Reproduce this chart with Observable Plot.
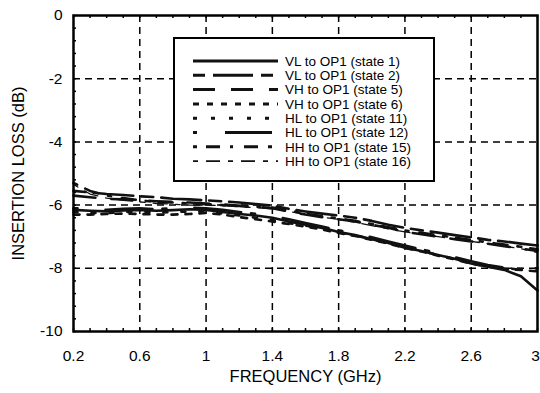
<!DOCTYPE html>
<html><head><meta charset="utf-8">
<script src="https://cdn.jsdelivr.net/npm/d3@7"></script>
<script src="https://cdn.jsdelivr.net/npm/@observablehq/plot@0.6"></script>
<style>body{margin:0;background:#fff}</style>
</head><body><div id="chart"></div>
<script>
const freq = [0.2,0.3,0.4,0.5,0.6,0.7,0.8,0.9,1.0,1.1,1.2,1.3,1.4,1.5,1.6,1.7,1.8,1.9,2.0,2.1,2.2,2.3,2.4,2.5,2.6,2.7,2.8,2.9,3.0];
const vlState1  = [-6.15,-6.18,-6.2,-6.17,-6.15,-6.18,-6.16,-6.13,-6.15,-6.22,-6.28,-6.33,-6.4,-6.52,-6.62,-6.72,-6.85,-6.95,-7.08,-7.2,-7.35,-7.45,-7.58,-7.7,-7.85,-7.95,-8.05,-8.25,-8.7];
const vlState2  = [-5.55,-5.6,-5.65,-5.68,-5.72,-5.75,-5.8,-5.82,-5.85,-5.88,-5.92,-5.97,-6.02,-6.12,-6.2,-6.27,-6.33,-6.4,-6.5,-6.62,-6.72,-6.8,-6.87,-6.95,-7.02,-7.1,-7.15,-7.22,-7.28];
const vhState5  = [-5.7,-5.75,-5.8,-5.82,-5.85,-5.88,-5.9,-5.92,-5.95,-5.98,-6.02,-6.05,-6.1,-6.2,-6.3,-6.38,-6.45,-6.52,-6.62,-6.72,-6.85,-6.92,-7.0,-7.08,-7.15,-7.22,-7.3,-7.38,-7.45];
const vhState6  = [-6.3,-6.3,-6.28,-6.27,-6.28,-6.3,-6.3,-6.28,-6.25,-6.3,-6.38,-6.45,-6.52,-6.6,-6.68,-6.77,-6.88,-6.98,-7.1,-7.22,-7.36,-7.47,-7.6,-7.72,-7.85,-7.95,-8.02,-8.05,-8.1];
const hlState11 = [-6.22,-6.25,-6.25,-6.22,-6.2,-6.24,-6.22,-6.2,-6.2,-6.27,-6.33,-6.4,-6.47,-6.57,-6.65,-6.75,-6.86,-6.96,-7.08,-7.2,-7.33,-7.45,-7.58,-7.7,-7.83,-7.93,-8.0,-8.02,-8.0];
const hlState12 = [-6.1,-6.12,-6.15,-6.12,-6.1,-6.13,-6.1,-6.08,-6.1,-6.15,-6.22,-6.28,-6.35,-6.45,-6.57,-6.68,-6.8,-6.9,-7.02,-7.15,-7.28,-7.4,-7.52,-7.65,-7.78,-7.9,-7.98,-8.05,-8.05];
const hhState15 = [-5.3,-5.55,-5.7,-5.78,-5.85,-5.9,-5.92,-5.95,-5.97,-6.0,-6.03,-6.05,-6.08,-6.17,-6.27,-6.35,-6.42,-6.5,-6.6,-6.7,-6.8,-6.88,-6.95,-7.03,-7.1,-7.18,-7.25,-7.32,-7.4];
const hhState16 = [-5.35,-5.65,-5.78,-5.85,-5.9,-5.95,-5.97,-6.0,-6.0,-6.02,-6.05,-6.08,-6.12,-6.2,-6.3,-6.38,-6.45,-6.55,-6.65,-6.75,-6.85,-6.92,-7.0,-7.08,-7.15,-7.22,-7.3,-7.38,-7.5];
const seriesNames = ["VL to OP1 (state 1)","VL to OP1 (state 2)","VH to OP1 (state 5)","VH to OP1 (state 6)","HL to OP1 (state 11)","HL to OP1 (state 12)","HH to OP1 (state 15)","HH to OP1 (state 16)"];
const seriesValues = [vlState1, vlState2, vhState5, vhState6, hlState11, hlState12, hhState15, hhState16];
const xTicks = [0.2,0.6,1,1.4,1.8,2.2,2.6,3];
const yTicks = [0,-2,-4,-6,-8,-10];
const xLabel = "FREQUENCY (GHz)";
const yLabel = "INSERTION LOSS (dB)";

// styles (separate from data)
const styles = [
  {dash: null, w: 2.6},
  {dash: "12,8,40,8", w: 2.6},
  {dash: "22,16", w: 2.6},
  {dash: "6,8", w: 2.6},
  {dash: "4,14", w: 2.6},
  {dash: "4,28,47,10", w: 2.6},
  {dash: "4,9,14,10,3,11,14,10", w: 2.6},
  {dash: "5,8,14,8", w: 1.3}
];

const tables = seriesValues.map(vals => freq.map((f, i) => ({f, v: vals[i]})));
const xMinor = d3.range(0.2, 3.0001, 0.1);
const yMinor = d3.range(0, -10.0001, -0.4);

const W = 540, H = 393, mL = 73, mR = 3, mT = 15, mB = 62;
const plotW = W - mL - mR, plotH = H - mT - mB, tk = 3;
const font = "Liberation Sans, Arial, Helvetica, sans-serif";
const chart = Plot.plot({
  width: W, height: H,
  marginLeft: mL, marginRight: mR, marginTop: mT, marginBottom: mB,
  style: {fontFamily: font, fontSize: "15.5px", color: "#000", background: "#fff"},
  x: {domain: [0.2, 3]},
  y: {domain: [-10, 0]},
  marks: [
    Plot.gridX(xTicks.slice(1, -1), {stroke: "#000", strokeOpacity: 1, strokeWidth: 1.5, strokeDasharray: "7,5"}),
    Plot.gridY(yTicks.slice(1, -1), {stroke: "#000", strokeOpacity: 1, strokeWidth: 1.5, strokeDasharray: "7,5"}),
    ...tables.map((t, i) => Plot.line(t, {x: "f", y: "v", stroke: "#111", strokeWidth: styles[i].w, strokeDasharray: styles[i].dash})),
    Plot.tickX(xMinor, {x: d => d, stroke: "#000", strokeWidth: 1.5, insetBottom: plotH - tk}),
    Plot.tickX(xMinor, {x: d => d, stroke: "#000", strokeWidth: 1.5, insetTop: plotH - tk}),
    Plot.tickY(yMinor, {y: d => d, stroke: "#000", strokeWidth: 1.5, insetRight: plotW - tk}),
    Plot.axisX({ticks: xTicks.slice(0, -1), anchor: "bottom", tickSize: 0, tickPadding: 18, tickFormat: d => String(d), label: null, fontSize: 15.5}),
    Plot.axisX({ticks: xTicks.slice(-1), anchor: "bottom", tickSize: 0, tickPadding: 18, tickFormat: d => String(d), label: null, fontSize: 15.5, dx: -2}),
    Plot.axisY({ticks: yTicks, anchor: "left", tickSize: 0, tickPadding: 11, tickFormat: d => String(d), label: null, fontSize: 15.5}),
    Plot.frame({stroke: "#000", strokeWidth: 2.5}),
    Plot.text([xLabel], {frameAnchor: "bottom", dy: 50, textAnchor: "middle", fontSize: 16.5, text: d => d}),
    Plot.text([yLabel], {frameAnchor: "left", dx: -55, rotate: -90, textAnchor: "middle", fontSize: 16.5, text: d => d})
  ]
});
document.getElementById("chart").appendChild(chart);

// legend inside the same svg
const svg = d3.select(chart);
const lg = svg.append("g").attr("transform", "translate(174,38)")
  .attr("font-family", font).attr("font-size", 13.5).attr("text-anchor", "start");
lg.append("rect").attr("width", 260).attr("height", 143).attr("fill", "#fff").attr("stroke", "#000").attr("stroke-width", 2);
seriesNames.forEach((name, i) => {
  const yy = 23 + i * 14.3;
  lg.append("line").attr("x1", 19).attr("x2", 104).attr("y1", yy).attr("y2", yy)
    .attr("stroke", "#111").attr("stroke-width", styles[i].w + 0.4).attr("stroke-dasharray", styles[i].dash);
  lg.append("text").attr("x", 111).attr("y", yy).attr("dy", "0.35em").attr("fill", "#000").attr("text-anchor", "start").text(name);
});
</script>
</body></html>
